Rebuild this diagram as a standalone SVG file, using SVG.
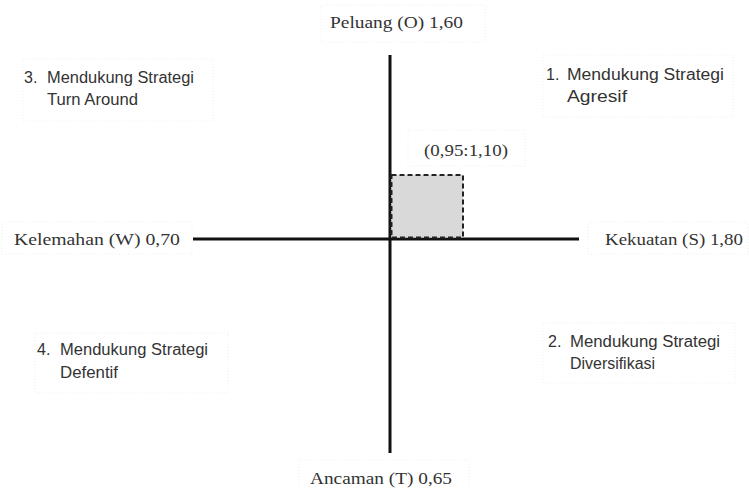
<svg xmlns="http://www.w3.org/2000/svg" width="749" height="490" viewBox="0 0 749 490">
<style>
.serif{font-family:"Liberation Serif","Times New Roman",serif;font-size:17px;fill:#333}
.sans{font-family:"Liberation Sans",Arial,sans-serif;font-size:16px;fill:#333}
.box{fill:#fff;stroke:#efefef;stroke-width:1;stroke-dasharray:1 2}
.axis{stroke:#111;stroke-width:3;fill:none}
</style>
<rect width="749" height="490" fill="#fff"/>
<g id="axes">
<line class="axis" x1="390" y1="55" x2="390" y2="453"/>
<line class="axis" x1="193" y1="239" x2="579" y2="239"/>
</g>
<g id="point-area">
<rect x="391.5" y="175" width="71.5" height="62.5" fill="#d9d9d9" stroke="#222" stroke-width="2" stroke-dasharray="5 3"/>
</g>
<g id="label-O">
<rect class="box" x="321" y="5" width="164" height="37"/>
<text class="serif" x="330" y="28" textLength="133" lengthAdjust="spacingAndGlyphs">Peluang (O) 1,60</text>
</g>
<g id="label-point">
<rect class="box" x="408" y="130" width="117" height="36"/>
<text class="serif" x="424" y="156" textLength="84" lengthAdjust="spacingAndGlyphs">(0,95:1,10)</text>
</g>
<g id="label-W">
<rect class="box" x="2" y="222" width="190" height="32"/>
<text class="serif" x="14" y="245" textLength="166" lengthAdjust="spacingAndGlyphs">Kelemahan (W) 0,70</text>
</g>
<g id="label-S">
<rect class="box" x="588" y="222" width="160" height="32"/>
<text class="serif" x="605" y="245" textLength="138" lengthAdjust="spacingAndGlyphs">Kekuatan (S) 1,80</text>
</g>
<g id="label-T">
<rect class="box" x="299" y="460" width="170" height="32"/>
<text class="serif" x="310" y="484" textLength="142" lengthAdjust="spacingAndGlyphs">Ancaman (T) 0,65</text>
</g>
<g id="q1">
<rect class="box" x="543" y="55" width="190" height="62"/>
<text class="sans" x="546" y="80">1.</text>
<text class="sans" x="567" y="80" textLength="157" lengthAdjust="spacingAndGlyphs">Mendukung Strategi</text>
<text class="sans" x="567" y="102" textLength="60" lengthAdjust="spacingAndGlyphs">Agresif</text>
</g>
<g id="q2">
<rect class="box" x="543" y="323" width="192" height="60"/>
<text class="sans" x="548" y="347">2.</text>
<text class="sans" x="570" y="347" textLength="150" lengthAdjust="spacingAndGlyphs">Mendukung Strategi</text>
<text class="sans" x="570" y="369" textLength="85" lengthAdjust="spacingAndGlyphs">Diversifikasi</text>
</g>
<g id="q3">
<rect class="box" x="23" y="59" width="190" height="62"/>
<text class="sans" x="24" y="83">3.</text>
<text class="sans" x="47" y="83" textLength="147" lengthAdjust="spacingAndGlyphs">Mendukung Strategi</text>
<text class="sans" x="47" y="105" textLength="91" lengthAdjust="spacingAndGlyphs">Turn Around</text>
</g>
<g id="q4">
<rect class="box" x="35" y="333" width="193" height="60"/>
<text class="sans" x="37" y="355">4.</text>
<text class="sans" x="60" y="355" textLength="148" lengthAdjust="spacingAndGlyphs">Mendukung Strategi</text>
<text class="sans" x="60" y="378" textLength="58" lengthAdjust="spacingAndGlyphs">Defentif</text>
</g>
</svg>
